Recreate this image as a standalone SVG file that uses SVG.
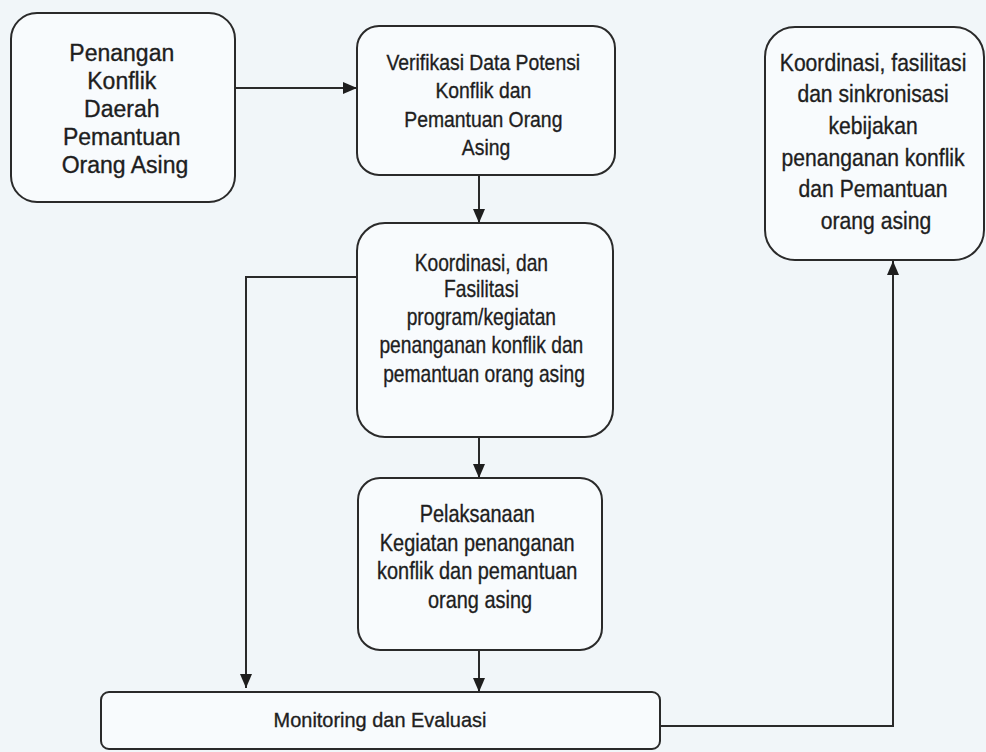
<svg xmlns="http://www.w3.org/2000/svg" width="986" height="752" viewBox="0 0 986 752">
<style>
.bg{fill:#f1f6f9}
.box{fill:#f8fbfd;stroke:#2a2a2a;stroke-width:2}
.t{font-family:"Liberation Sans",Arial,sans-serif;fill:#1e1e1e;stroke:#1e1e1e;stroke-width:0.35;text-anchor:middle}
.conn{fill:none;stroke:#2a2a2a;stroke-width:2}
</style>
<defs>
<marker id="ah" viewBox="0 0 14 12" refX="14" refY="6" markerWidth="14" markerHeight="12" markerUnits="userSpaceOnUse" orient="auto">
<path d="M0,0 L14,6 L0,12 Z" fill="#1e1e1e"/>
</marker>
</defs>
<rect class="bg" x="0" y="0" width="986" height="752"/>

<g id="connectors">
<path class="conn" d="M235,88 H357" marker-end="url(#ah)"/>
<path class="conn" d="M479,175 V223" marker-end="url(#ah)"/>
<path class="conn" d="M357,277 H246 V688" marker-end="url(#ah)"/>
<path class="conn" d="M479,437 V478" marker-end="url(#ah)"/>
<path class="conn" d="M479,650 V692" marker-end="url(#ah)"/>
<path class="conn" d="M660,726 H893 V261" marker-end="url(#ah)"/>
</g>

<g id="node-penangan">
<rect class="box" x="11" y="13" width="224" height="189" rx="26"/>
<text class="t" font-size="23">
<tspan x="125" y="61">Penangan</tspan>
<tspan x="125" y="89">Konflik</tspan>
<tspan x="125" y="117">Daerah</tspan>
<tspan x="125" y="145">Pemantuan</tspan>
<tspan x="125" y="173">Orang Asing</tspan>
</text>
</g>

<g id="node-verifikasi">
<rect class="box" x="357" y="26" width="258" height="149" rx="22"/>
<text class="t" font-size="22" transform="translate(486,0) scale(0.88,1)">
<tspan x="0" y="70">Verifikasi Data Potensi</tspan>
<tspan x="0" y="98">Konflik dan</tspan>
<tspan x="0" y="127">Pemantuan Orang</tspan>
<tspan x="0" y="155">Asing</tspan>
</text>
</g>

<g id="node-koordinasi">
<rect class="box" x="357" y="223" width="256" height="214" rx="28"/>
<text class="t" font-size="24" transform="translate(484,0) scale(0.8,1)">
<tspan x="0" y="271">Koordinasi, dan</tspan>
<tspan x="0" y="297">Fasilitasi</tspan>
<tspan x="0" y="325">program/kegiatan</tspan>
<tspan x="0" y="353">penanganan konflik dan</tspan>
<tspan x="0" y="382">pemantuan orang asing</tspan>
</text>
</g>

<g id="node-pelaksanaan">
<rect class="box" x="358" y="478" width="244" height="172" rx="22"/>
<text class="t" font-size="24" transform="translate(480,0) scale(0.83,1)">
<tspan x="0" y="522">Pelaksanaan</tspan>
<tspan x="0" y="551">Kegiatan penanganan</tspan>
<tspan x="0" y="579">konflik dan pemantuan</tspan>
<tspan x="0" y="608">orang asing</tspan>
</text>
</g>

<g id="node-monitoring">
<rect class="box" x="101" y="692" width="559" height="57" rx="8"/>
<text class="t" font-size="21" transform="translate(380,0) scale(0.95,1)">
<tspan x="0" y="727">Monitoring dan Evaluasi</tspan>
</text>
</g>

<g id="node-kebijakan">
<rect class="box" x="765" y="27" width="219" height="233" rx="30"/>
<text class="t" font-size="24" transform="translate(876,0) scale(0.88,1)">
<tspan x="0" y="71">Koordinasi, fasilitasi</tspan>
<tspan x="0" y="102">dan sinkronisasi</tspan>
<tspan x="0" y="134">kebijakan</tspan>
<tspan x="0" y="166">penanganan konflik</tspan>
<tspan x="0" y="197">dan Pemantuan</tspan>
<tspan x="0" y="229">orang asing</tspan>
</text>
</g>
</svg>
